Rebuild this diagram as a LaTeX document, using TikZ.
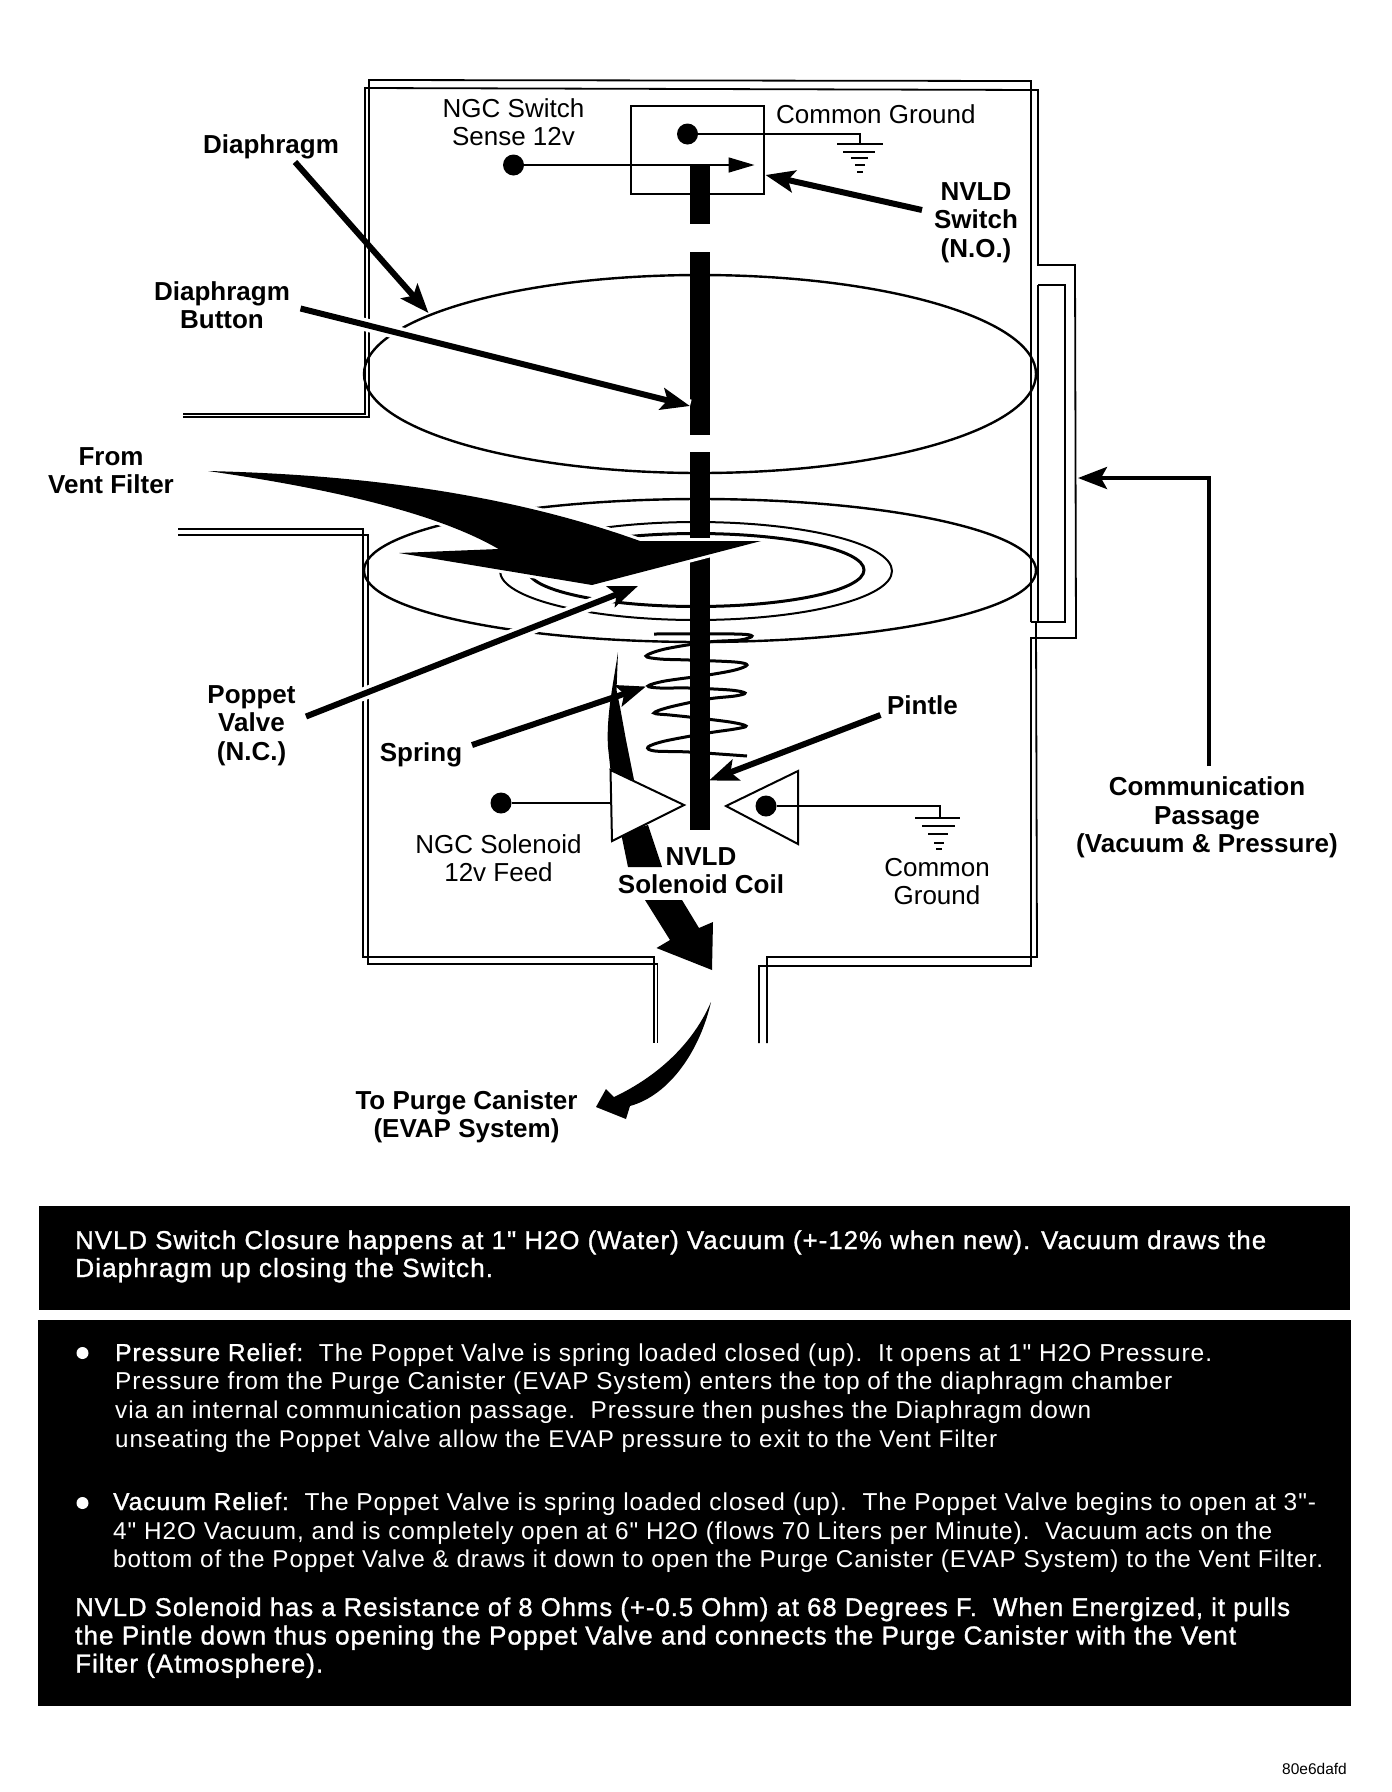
\documentclass[tikz,border=0pt]{standalone}
\usepackage{graphicx}
\usepackage{fontspec}
\setmainfont{Liberation Sans}
\newfontfamily\spaced[LetterSpace=4]{Liberation Sans}
\newfontfamily\spacedmed[LetterSpace=4,FakeBold=1.2]{Liberation Sans}
\usetikzlibrary{arrows.meta}
\newcommand\lbl[1]{\begin{tabular}[t]{@{}c@{}}#1\end{tabular}}
\newcommand\fit[2]{\resizebox{#1pt}{!}{#2}}
\tikzset{
  x=1pt,y=-1pt,
  wall/.style={line width=1.8pt},
  vessel/.style={line width=2.4pt},
  boldlabel/.style={anchor=base,inner sep=0pt,font=\fontsize{26}{28.7}\selectfont\bfseries},
  plainlabel/.style={anchor=base,inner sep=0pt,font=\fontsize{26}{28.7}\selectfont},
  leader/.style={line width=6pt,-{Stealth[length=29pt,width=22pt,inset=6pt]}},
  halo/.style={preaction={draw=white,line width=13pt,arrows=-}},
  flow/.style={fill=black,preaction={draw=white,line width=6pt,line join=round}},
  dot/.style={circle,fill=black,inner sep=0pt,minimum size=21pt},
  wire/.style={line width=1.6pt},
  blackbox/.style={fill=black,draw=none,inner sep=0pt},
  wtext/.style={anchor=base west,inner sep=0pt,text=white,font=\fontsize{24}{28}\selectfont\spaced},
  mtext/.style={anchor=base west,inner sep=0pt,text=white,font=\fontsize{24}{28}\selectfont\spacedmed},
}
\begin{document}
\begin{tikzpicture}
\useasboundingbox (0,0) rectangle (1392,1792);
\fill[white] (0,0) rectangle (1392,1792);

% housing walls
\draw[wall] (183,414) -- (365,414) -- (365,88) -- (1038,90) -- (1038,265) -- (1075,265) -- (1076,638) -- (1031,638) -- (1031,966) -- (759,966) -- (759,1043);
\draw[wall] (183,417) -- (369,417) -- (369,80) -- (1031,81) -- (1031,622);
\draw[wall] (1038,285) -- (1065,285) -- (1065,622) -- (1031,622);
\draw[wall] (1038,285) -- (1038,622);
\draw[wall] (1036,622) -- (1037,957) -- (767,957) -- (767,1043);
\draw[wall] (178,529) -- (363,529) -- (363,957) -- (654,957) -- (654,1043);
\draw[wall] (178,535) -- (368,535) -- (368,964) -- (657.5,964) -- (657.5,1043);

% diaphragm and poppet valve
\draw[vessel] (700,374) ellipse [x radius=336pt,y radius=99pt];
\draw[vessel] (700,570.5) ellipse [x radius=336pt,y radius=71.5pt];
\draw[line width=2pt] (696,571) ellipse [x radius=196pt,y radius=49pt];
\draw[line width=3pt] (696,570) ellipse [x radius=168pt,y radius=36.5pt];

% spring
\draw[line width=3pt] plot[smooth,tension=0.55] coordinates {(654,634) (735,634) (752,636) (740,640) (708,642) (665,649) (646,656) (660,659) (689,660) (735,662) (747,665) (735,670) (708,675) (665,681) (648,686) (660,688) (689,688) (730,690) (745,693) (735,696) (708,699) (670,707) (654,713) (670,715) (689,717) (730,722) (746,726) (735,729) (708,733) (665,741) (648,747) (655,751) (689,752) (747,756)};

% pintle
\fill (690,165) rectangle (710,224);
\fill (690,252) rectangle (710,435);
\fill (690,452) rectangle (710,538);
\fill (690,557) rectangle (710,830);

% main flow arrow from vent filter
\path[flow] (208,471) .. controls (330,474) and (490,487) .. (640,541) -- (761,541) -- (592,585) -- (399,553) -- (498.5,549) .. controls (440,515) and (340,490) .. (208,471) -- cycle;

% flow behind the solenoid
\fill (618,652) .. controls (614,680) and (606,715) .. (608,747) -- (611,775) -- (634,780) -- (626,740) -- (620,707) -- (616.5,690) -- cycle;
\fill (621,833) -- (628,867) -- (662,867) -- (648,825) -- cycle;
\fill (645,900) -- (682,900) -- (699,928) -- (713,922) -- (712,970) -- (656.5,948) -- (670,940) -- cycle;
\fill (711,1002) .. controls (700,1050) and (670,1095) .. (630,1106) -- (626,1119) -- (596,1107) -- (606,1089) -- (614,1097) .. controls (650,1080) and (690,1050) .. (711,1002) -- cycle;

% NVLD switch
\node[draw,line width=2.6pt,fill=none,inner sep=0pt,minimum width=133pt,minimum height=88pt] (swbox) at (697.5,150) {};
\node[dot] (swdot) at (687.5,134) {};
\coordinate (swgnd) at (860,144);
\draw[wire] (swdot) -| (swgnd);
\draw[line width=2pt] (837,144) -- (883,144);
\draw[line width=2pt] (843,152) -- (875,152);
\draw[line width=2pt] (851,158) -- (868,158);
\draw[line width=2pt] (855,165) -- (865,165);
\draw[line width=2pt] (857,172) -- (863,172);
\node[dot] (sense) at (513.5,165) {};
\coordinate (swtip) at (754.5,165);
\draw[wire,-{Triangle[length=26pt,width=15pt]}] (sense) -- (swtip);

% solenoid coil
\coordinate (lta) at (610.5,770);
\coordinate (ltb) at (684,805);
\coordinate (ltc) at (612,841);
\coordinate (rta) at (798,771);
\coordinate (rtb) at (726,806);
\coordinate (rtc) at (798,844);
\draw[line width=2pt,fill=white,line join=miter] (lta) -- (ltb) -- (ltc) -- cycle;
\draw[line width=2pt,fill=white,line join=miter] (rta) -- (rtb) -- (rtc) -- cycle;
\node[dot] (soldot) at (501,803) {};
\draw[wire] (soldot) -- (611,803);
\node[dot] (comdot) at (766,806) {};
\coordinate (solgnd) at (940,818);
\draw[wire] (comdot) -| (solgnd);
\draw[line width=2pt] (915,818) -- (960,818);
\draw[line width=2pt] (922,826) -- (955,826);
\draw[line width=2pt] (928,834) -- (948,834);
\draw[line width=2pt] (934,843) -- (944,843);
\draw[line width=2pt] (936,849) -- (942,849);

% labels
\node[boldlabel] (ldia) at (271,153) {Diaphragm};
\node[boldlabel] (lbtn) at (222,300) {\lbl{Diaphragm\\Button}};
\node[boldlabel] (lvent) at (111,465) {\lbl{From\\Vent Filter}};
\node[boldlabel] (lpop) at (251.5,703) {\lbl{Poppet\\Valve\\(N.C.)}};
\node[boldlabel] (lspr) at (421,761) {Spring};
\node[boldlabel] (lpin) at (922.5,714) {Pintle};
\node[boldlabel] (lsw) at (976,200) {\lbl{NVLD\\Switch\\(N.O.)}};
\node[boldlabel] (lcomm) at (1207,795.5) {\lbl{Communication\\Passage\\(Vacuum \& Pressure)}};
\node[boldlabel] (lcoil) at (701,865) {\lbl{NVLD\\Solenoid Coil}};
\node[boldlabel] (lcan) at (466.5,1109) {\lbl{To Purge Canister\\(EVAP System)}};
\node[plainlabel] (lngc) at (513.5,117) {\lbl{NGC Switch\\Sense 12v}};
\node[plainlabel,anchor=base west] (lcg) at (776,123) {Common Ground};
\node[plainlabel] (lsol) at (498.5,853) {\lbl{NGC Solenoid\\12v Feed}};
\node[plainlabel] (lcg2) at (937,876) {\lbl{Common\\Ground}};
\node[anchor=base east,inner sep=0pt,font=\fontsize{15.5}{18}\selectfont] (lcode) at (1347,1774) {80e6dafd};

% leaders
\coordinate (ldias) at (295,162);
\coordinate (ldiat) at (428.5,313);
\draw[leader] (ldias) -- (ldiat);
\coordinate (lbtns) at (300.5,308.5);
\coordinate (lbtnt) at (690,406);
\draw[leader,halo] (lbtns) -- (lbtnt);
\coordinate (lsws) at (922,210);
\coordinate (lswt) at (765.5,175);
\draw[leader] (lsws) -- (lswt);
\coordinate (lpops) at (306,716.5);
\coordinate (lpopt) at (638,586);
\draw[leader,halo] (lpops) -- (lpopt);
\coordinate (lsprs) at (472,745);
\coordinate (lsprt) at (646,686.5);
\draw[leader] (lsprs) -- (lsprt);
\coordinate (lpins) at (880.5,715);
\coordinate (lpint) at (709,780.5);
\draw[leader] (lpins) -- (lpint);
\coordinate (lcomms) at (1209,766);
\coordinate (lcommt) at (1078,478);
\draw[leader,line width=4pt] (lcomms) |- (lcommt);

% note boxes
\node[blackbox,minimum width=1311pt,minimum height=104pt] (box1) at (694.5,1258) {};
\node[blackbox,minimum width=1313pt,minimum height=386pt] (box2) at (694.5,1513) {};
\node[mtext] (n1) at (75,1249) {\fit{1191}{NVLD Switch Closure happens at 1" H2O (Water) Vacuum (+-12\% when new).  Vacuum draws the}};
\node[mtext] (n2) at (75,1277) {\fit{418}{Diaphragm up closing the Switch.}};
\node[circle,fill=white,inner sep=0pt,minimum size=12pt] (b1) at (82.5,1353) {};
\node[wtext] (p1) at (115,1361) {\fit{1097}{{\spacedmed Pressure Relief:}\ \ The Poppet Valve is spring loaded closed (up).\ \ It opens at 1" H2O Pressure.}};
\node[wtext] (p2) at (115,1389) {\fit{1057}{Pressure from the Purge Canister (EVAP System) enters the top of the diaphragm chamber}};
\node[wtext] (p3) at (115,1418) {\fit{976}{via an internal communication passage.\ \ Pressure then pushes the Diaphragm down}};
\node[wtext] (p4) at (115,1447) {\fit{882}{unseating the Poppet Valve allow the EVAP pressure to exit to the Vent Filter}};
\node[circle,fill=white,inner sep=0pt,minimum size=12pt] (b2) at (82.5,1503) {};
\node[wtext] (v1) at (113,1510) {\fit{1203}{{\spacedmed Vacuum Relief:}\ \ The Poppet Valve is spring loaded closed (up).\ \ The Poppet Valve begins to open at 3"-}};
\node[wtext] (v2) at (113,1539) {\fit{1159}{4" H2O Vacuum, and is completely open at 6" H2O (flows 70 Liters per Minute).\ \ Vacuum acts on the}};
\node[wtext] (v3) at (113,1567) {\fit{1210}{bottom of the Poppet Valve \& draws it down to open the Purge Canister (EVAP System) to the Vent Filter.}};
\node[mtext] (s1) at (75,1616) {\fit{1215}{NVLD Solenoid has a Resistance of 8 Ohms (+-0.5 Ohm) at 68 Degrees F.\ \ When Energized, it pulls}};
\node[mtext] (s2) at (75,1644.5) {\fit{1161}{the Pintle down thus opening the Poppet Valve and connects the Purge Canister with the Vent}};
\node[mtext] (s3) at (75,1672.5) {\fit{248}{Filter (Atmosphere).}};
\end{tikzpicture}
\end{document}
